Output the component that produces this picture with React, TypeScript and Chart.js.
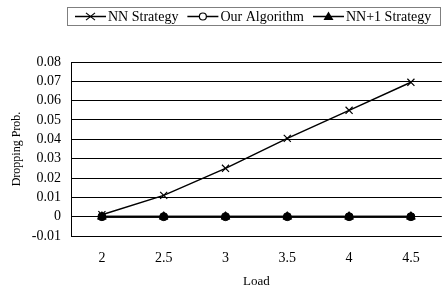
import React, { useEffect, useRef } from "react";
import { Chart, registerables } from "chart.js";

Chart.register(...registerables);

const loads = ["2", "2.5", "3", "3.5", "4", "4.5"];
const nnStrategy = [0.001, 0.011, 0.025, 0.0405, 0.055, 0.0695];
const ourAlgorithm = [0, 0, 0, 0, 0, 0];
const nnPlus1Strategy = [0, 0, 0, 0, 0, 0];
const seriesLabels = ["NN Strategy", "Our Algorithm", "NN+1 Strategy"];

const FONT = "'Liberation Serif', 'Times New Roman', serif";

const legendPlugin = {
  id: "boxLegend",
  afterDraw(chart: any) {
    const ctx = chart.ctx;
    ctx.save();
    const boxX = 67.5, boxY = 7.5, boxW = 373, boxH = 18;
    ctx.strokeStyle = "#7f7f7f";
    ctx.lineWidth = 1;
    ctx.strokeRect(boxX, boxY, boxW, boxH);
    ctx.font = "14px " + FONT;
    ctx.textBaseline = "middle";
    ctx.textAlign = "left";
    const cy = 16.5;
    let x = 75;
    const styles = ["crossRot", "circle", "triangle"];
    chart.data.datasets.forEach((ds: any, i: number) => {
      ctx.strokeStyle = "#000";
      ctx.lineWidth = 1.5;
      ctx.beginPath();
      ctx.moveTo(x, cy);
      ctx.lineTo(x + 31, cy);
      ctx.stroke();
      const mx = x + 15.5;
      ctx.lineWidth = 1.2;
      if (styles[i] === "crossRot") {
        const r = 4.5;
        ctx.beginPath();
        ctx.moveTo(mx - r, cy - r * 0.8);
        ctx.lineTo(mx + r, cy + r * 0.8);
        ctx.moveTo(mx + r, cy - r * 0.8);
        ctx.lineTo(mx - r, cy + r * 0.8);
        ctx.stroke();
      } else if (styles[i] === "circle") {
        ctx.fillStyle = "#fff";
        ctx.beginPath();
        ctx.arc(mx, cy, 3.5, 0, Math.PI * 2);
        ctx.fill();
        ctx.stroke();
      } else {
        ctx.fillStyle = "#000";
        ctx.beginPath();
        ctx.moveTo(mx, cy - 5);
        ctx.lineTo(mx + 5, cy + 3.5);
        ctx.lineTo(mx - 5, cy + 3.5);
        ctx.closePath();
        ctx.fill();
      }
      ctx.fillStyle = "#000";
      ctx.fillText(ds.label, x + 33, cy + 0.5);
      x += 33 + ctx.measureText(ds.label).width + 9;
    });
    ctx.restore();
  },
};

export default function App() {
  const ref = useRef<HTMLCanvasElement | null>(null);
  useEffect(() => {
    if (!ref.current) return;
    const chart = new Chart(ref.current, {
      type: "line",
      data: {
        labels: loads,
        datasets: [
          {
            label: seriesLabels[0],
            data: nnStrategy,
            borderColor: "#000",
            backgroundColor: "#000",
            borderWidth: 1.5,
            pointStyle: "crossRot",
            pointRadius: 5,
            pointBorderWidth: 1.2,
            tension: 0,
          },
          {
            label: seriesLabels[1],
            data: ourAlgorithm,
            borderColor: "#000",
            backgroundColor: "#000",
            borderWidth: 2,
            pointStyle: "circle",
            pointRadius: 4,
            pointBorderWidth: 1,
            tension: 0,
          },
          {
            label: seriesLabels[2],
            data: nnPlus1Strategy,
            borderColor: "#000",
            backgroundColor: "#000",
            borderWidth: 2,
            pointStyle: "triangle",
            pointRadius: 5,
            pointBorderWidth: 1,
            tension: 0,
          },
        ],
      },
      options: {
        responsive: false,
        animation: false,
        devicePixelRatio: 1,
        layout: { padding: { top: 62, left: 0, right: 0, bottom: 0 } },
        plugins: {
          legend: { display: false },
          tooltip: { enabled: false },
        },
        scales: {
          x: {
            type: "category",
            offset: true,
            grid: { display: false, drawTicks: false },
            border: { display: false },
            ticks: {
              color: "#000",
              font: { family: FONT, size: 14 },
              padding: 14,
              maxRotation: 0,
              autoSkip: false,
            },
            title: {
              display: true,
              text: "Load",
              color: "#000",
              font: { family: FONT, size: 13 },
              padding: { top: 0, bottom: 2 },
            },
            afterFit: (s: any) => {
              s.height = 55;
            },
          },
          y: {
            min: -0.01,
            max: 0.08,
            ticks: {
              stepSize: 0.01,
              autoSkip: false,
              color: "#000",
              font: { family: FONT, size: 14 },
              padding: 10,
              callback: (v: any) => {
                const n = Math.round(Number(v) * 100) / 100;
                return n === 0 ? "0" : n.toFixed(2);
              },
            },
            grid: { color: "#000", lineWidth: 1, drawTicks: false },
            border: { display: true, color: "#000", width: 1 },
            title: {
              display: true,
              text: "Dropping Prob.",
              color: "#000",
              font: { family: FONT, size: 12 },
              padding: { top: 10, bottom: 0 },
            },
            afterFit: (s: any) => {
              s.width = 71;
            },
          },
        },
      },
      plugins: [legendPlugin],
    });
    return () => chart.destroy();
  }, []);
  return (
    <div
      style={{
        position: "absolute",
        left: 0,
        top: 0,
        width: 447,
        height: 291,
        overflow: "hidden",
        background: "#fff",
      }}
    >
      <canvas ref={ref} width={448} height={291} style={{ width: 448, height: 291 }} />
    </div>
  );
}
